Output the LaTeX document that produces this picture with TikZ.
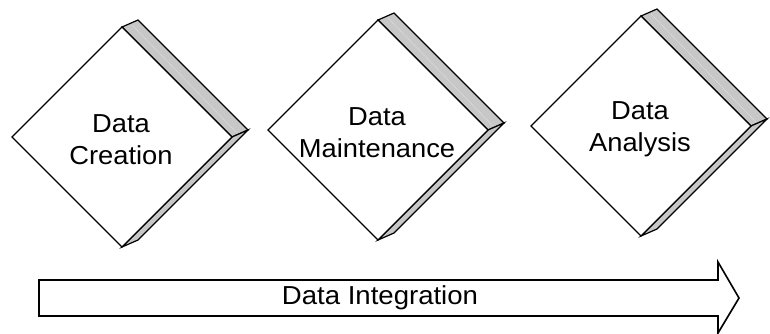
\documentclass[tikz,border=0pt]{standalone}
\usepackage{fontspec}
\newfontfamily\boxfont[FakeStretch=1.05]{Liberation Sans}
\newfontfamily\barfont[FakeStretch=1.06]{Liberation Sans}

\tikzset{
	face/.style={draw=black,line width=1.2pt,fill=white,line join=miter},
	bevel/.style={draw=black,line width=1.2pt,fill=black!22,line join=miter},
	shine/.style={draw=white!85!black,line width=0.6pt},
	boxtext/.style={align=center,font=\boxfont\fontsize{26}{32}\selectfont,inner sep=0pt},
	bar/.style={draw=black,line width=1.6pt,fill=white,line join=miter},
	bartext/.style={font=\barfont\fontsize{26}{30}\selectfont,inner sep=0pt}
}

\begin{document}
\begin{tikzpicture}[x=1pt,y=-1pt]
	\useasboundingbox (0,0) rectangle (770,333);
	% three bevelled diamonds, half diagonal 110, depth (16,-7)
	\foreach \cx/\cy/\nm/\txt in {122/137/creation/{Data\\Creation},
			378/130/maintenance/{Data\\Maintenance},
			641/126/analysis/{Data\\Analysis}}{
		\coordinate (\nm-l) at (\cx-110,\cy);
		\coordinate (\nm-t) at (\cx,\cy-110);
		\coordinate (\nm-r) at (\cx+110,\cy);
		\coordinate (\nm-b) at (\cx,\cy+110);
		\filldraw[bevel] (\nm-t)--++(16,-7)--([shift={(16,-7)}]\nm-r)--(\nm-r)--cycle;
		\filldraw[bevel] (\nm-r)--++(16,-7)--([shift={(16,-7)}]\nm-b)--(\nm-b)--cycle;
		\draw[shine] ([shift={(10,-2)}]\nm-t)--([shift={(5,-4)}]\nm-r);
		\filldraw[face] (\nm-l)--(\nm-t)--(\nm-r)--(\nm-b)--cycle;
		\node[boxtext] (\nm) at (\cx-1,\cy+3) {\txt};
	}
	% the long arrow underneath
	\coordinate (tail) at (39,298);
	\coordinate (tip) at (739,298);
	\filldraw[bar] (tail)++(0,-18)--(718,280)--(718,262)--(tip)--(718,333)--(718,316)--(39,316)--cycle;
	\node[bartext] (integration) at (380,298) {Data Integration};
\end{tikzpicture}
\end{document}
